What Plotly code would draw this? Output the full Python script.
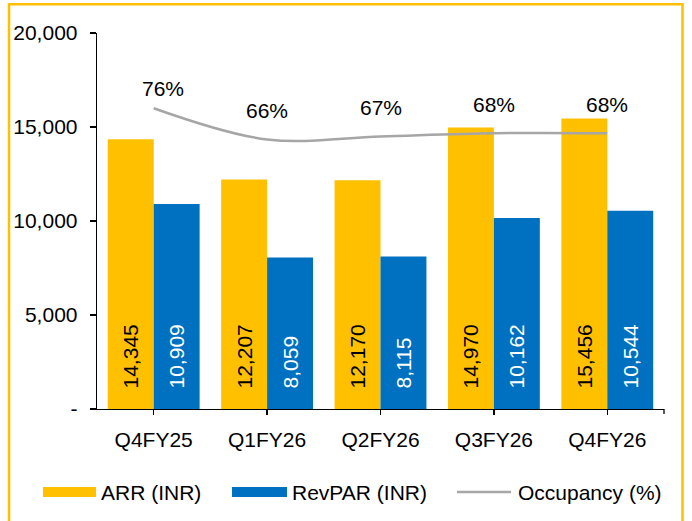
import plotly.graph_objects as go

categories = ["Q4FY25", "Q1FY26", "Q2FY26", "Q3FY26", "Q4FY26"]
arr_inr = [14345, 12207, 12170, 14970, 15456]
revpar_inr = [10909, 8059, 8115, 10162, 10544]
occupancy_pct = [76, 66, 67, 68, 68]
y_tickvals = [0, 5000, 10000, 15000, 20000]
y_ticktext = ["-", "5,000", "10,000", "15,000", "20,000"]

YELLOW = "#FFC000"
BLUE = "#0070C0"
GRAY = "#A6A6A6"
FONT = "Liberation Sans, Arial, sans-serif"
FS = 21

W, H = 692, 521
# plot-area geometry in pixels
L, R, T, B = 97, 664, 33, 409
PW, PH = R - L, B - T


def px(xp):
    return (xp - L) / PW


def py(yp):
    return (B - yp) / PH


pad = "\u00a0\u00a0\u00a0"

fig = go.Figure()
fig.add_trace(go.Bar(
    x=categories, y=arr_inr, name="ARR (INR)", marker=dict(color=YELLOW, line=dict(width=0)),
    texttemplate=pad + "%{y:,}", textposition="inside", insidetextanchor="start",
    textangle=-90, insidetextfont=dict(color="#000000", size=FS, family=FONT),
    showlegend=False,
))
fig.add_trace(go.Bar(
    x=categories, y=revpar_inr, name="RevPAR (INR)", marker=dict(color=BLUE, line=dict(width=0)),
    texttemplate=pad + "%{y:,}", textposition="inside", insidetextanchor="start",
    textangle=-90, insidetextfont=dict(color="#FFFFFF", size=FS, family=FONT),
    showlegend=False,
))
fig.add_trace(go.Scatter(
    x=categories, y=occupancy_pct, name="Occupancy (%)", mode="lines",
    line=dict(color=GRAY, width=2.5, shape="spline", smoothing=1),
    yaxis="y2", showlegend=False,
))

annotations = []
label_offsets = {0: (9, 20)}
for i, (c, v) in enumerate(zip(categories, occupancy_pct)):
    xs, ys = label_offsets.get(i, (0, 29))
    annotations.append(dict(
        x=c, y=v, xref="x", yref="y2", text=f"{v}%", showarrow=False,
        xshift=xs, yshift=ys, font=dict(size=FS, family=FONT, color="#000000"),
    ))

# custom legend
legend_y = py(492)
shapes = [
    dict(type="rect", xref="paper", yref="paper", x0=px(43), x1=px(96), y0=py(497), y1=py(487),
         fillcolor=YELLOW, line=dict(width=0)),
    dict(type="rect", xref="paper", yref="paper", x0=px(232), x1=px(287), y0=py(497), y1=py(487),
         fillcolor=BLUE, line=dict(width=0)),
    dict(type="line", xref="paper", yref="paper", x0=px(457), x1=px(511), y0=legend_y, y1=legend_y,
         line=dict(color=GRAY, width=2.5)),
    # chart frame
    dict(type="rect", xref="paper", yref="paper", x0=px(9), x1=px(682.5), y0=py(540), y1=py(4.3),
         line=dict(color=YELLOW, width=2.5), fillcolor="rgba(0,0,0,0)", layer="below"),
    # right end tick of category axis
    dict(type="line", xref="paper", yref="paper", x0=1, x1=1, y0=0, y1=py(414),
         line=dict(color="#000000", width=1.3)),
]
for text, x0 in [("ARR (INR)", 99), ("RevPAR (INR)", 290), ("Occupancy (%)", 516)]:
    annotations.append(dict(
        x=px(x0), y=legend_y, xref="paper", yref="paper", text=text, showarrow=False,
        xanchor="left", yanchor="middle", font=dict(size=FS, family=FONT, color="#000000"),
    ))

fig.update_layout(
    width=W, height=H,
    margin=dict(l=L, r=W - R, t=T, b=H - B, pad=0),
    paper_bgcolor="#FFFFFF", plot_bgcolor="#FFFFFF",
    barmode="group", bargap=0.19, bargroupgap=0,
    font=dict(family=FONT, size=FS, color="#000000"),
    showlegend=False,
    xaxis=dict(
        showline=True, linecolor="#000000", linewidth=1.3, ticks="outside", ticklen=5,
        tickcolor="#000000", tickwidth=1.3, showgrid=False, zeroline=False,
        tickfont=dict(size=FS, family=FONT, color="#000000"), ticklabelstandoff=6,
        automargin=False,
    ),
    yaxis=dict(
        range=[0, 20000], tickvals=y_tickvals, ticktext=y_ticktext,
        showline=True, linecolor="#000000", linewidth=1.3, ticks="outside", ticklen=6,
        tickcolor="#000000", tickwidth=1.3, showgrid=False, zeroline=False,
        tickfont=dict(size=FS, family=FONT, color="#000000"), ticklabelstandoff=8,
        automargin=False,
    ),
    yaxis2=dict(range=[-20, 100], overlaying="y", visible=False),
    annotations=annotations,
    shapes=shapes,
)

fig.write_html(
    "out.html",
    config={"displayModeBar": False, "staticPlot": True},
    post_script="document.body.style.margin='0';document.body.style.overflow='hidden';",
)
